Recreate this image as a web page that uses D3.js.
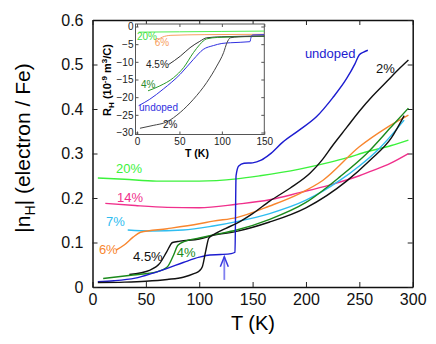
<!DOCTYPE html>
<html>
<head>
<meta charset="utf-8">
<script src="https://cdn.jsdelivr.net/npm/d3@7"></script>
<style>
  body { margin: 0; background: #fff; }
  svg { display: block; font-family: "Liberation Sans", Arial, sans-serif; }
</style>
</head>
<body>
<svg id="chart" width="436" height="344"></svg>
<script>
// main panel: |nH| vs T, [T (K), |nH|]
var undoped = [[5,0.012],[20,0.014],[40,0.02],[55,0.03],[70,0.042],[85,0.055],[100,0.067],[110,0.072],[120,0.073],[130,0.075],[133.5,0.078],[134.5,0.25],[137,0.272],[142,0.278],[150,0.279],[158,0.285],[166,0.298],[178,0.325],[194,0.353],[210,0.383],[225,0.425],[238,0.468],[246,0.502],[250,0.522],[254,0.528],[258,0.532]];
var dope2 = [[5,0.01],[30,0.011],[50,0.013],[70,0.017],[85,0.022],[95,0.03],[100,0.036],[103,0.046],[106,0.08],[109,0.11],[115,0.12],[125,0.132],[135,0.143],[150,0.165],[166,0.193],[185,0.222],[204,0.256],[215,0.285],[225,0.318],[238,0.358],[250,0.395],[262,0.428],[275,0.46],[288,0.492],[296,0.51]];
var dope4 = [[10,0.019],[38,0.027],[60,0.034],[70,0.045],[76,0.072],[80,0.094],[87,0.103],[100,0.11],[113,0.117],[135,0.128],[166,0.152],[200,0.19],[232,0.248],[257,0.3],[280,0.36],[296,0.402]];
var dope45 = [[34.5,0.028],[54,0.038],[63,0.053],[69.5,0.079],[75,0.1],[82,0.103],[100,0.108],[113,0.116],[135,0.125],[166,0.146],[200,0.178],[238,0.238],[260,0.285],[280,0.335],[292,0.385]];
var dope6 = [[22,0.083],[30,0.095],[38,0.112],[45,0.123],[70,0.131],[100,0.142],[113,0.148],[135,0.156],[166,0.182],[194,0.21],[216,0.24],[250,0.315],[275,0.357],[296,0.386]];
var dope7 = [[33,0.128],[54,0.126],[85,0.128],[113,0.137],[135,0.147],[166,0.165],[200,0.195],[232,0.24],[250,0.272],[269,0.312],[292,0.375]];
var dope14 = [[12,0.188],[40,0.183],[70,0.179],[100,0.178],[135,0.186],[166,0.196],[194,0.212],[222,0.229],[250,0.25],[263,0.262],[279,0.278],[296,0.3]];
var dope20 = [[5,0.245],[30,0.242],[60,0.238],[100,0.238],[135,0.243],[157,0.25],[194,0.265],[222,0.28],[238,0.29],[257,0.304],[280,0.318],[296,0.33]];
var arrowT = 123.5, arrowFrom = 0.016, arrowTo = 0.068;

// inset: RH (1e-9 m3/C) vs T
var inUndoped = [[2,-22.4],[15,-20.6],[31,-17.7],[51,-13.5],[66.5,-9.3],[78,-6.5],[90,-5.4],[100,-4.8],[110,-4.6],[133,-4.3],[134.5,-3],[136,-2.4],[150,-2.3]];
var in2 = [[3.5,-28.8],[19,-28],[35,-27],[51,-24.3],[66.5,-20.6],[82,-15.9],[94,-11.2],[102,-7.4],[106,-4.6],[110,-3.2],[120,-2.9],[150,-2.7]];
var in4 = [[13,-18.2],[27,-16.8],[43,-14.5],[55,-11.6],[66.5,-7.4],[74,-5.1],[82,-3.5],[95,-3.1],[150,-2.8]];
var in45 = [[37,-10.8],[51,-8.4],[62.5,-6],[74,-4.2],[82,-3.2],[100,-2.9],[150,-2.7]];
var in6 = [[22,-4.3],[30,-3],[40,-2.5],[80,-2.3],[150,-2.2]];
var in20 = [[2,-1.6],[50,-1.5],[100,-1.4],[150,-1.3]];

var xTicks = [0,50,100,150,200,250,300];
var yTicks = [0,0.1,0.2,0.3,0.4,0.5,0.6];
var inXTicks = [0,50,100,150];
var inYTicks = [0,-5,-10,-15,-20,-25,-30];

var svg = d3.select("#chart");

var x = d3.scaleLinear().domain([0,300]).range([92.5,412.7]);
var y = d3.scaleLinear().domain([0,0.6]).range([287,20]);

function styleAxis(g, size){
  g.selectAll("text").attr("font-size", size).attr("fill", "#111");
  g.selectAll("line").attr("stroke", "#222");
  g.select(".domain").attr("stroke", "#111").attr("stroke-width", 1.5);
}

svg.append("g").attr("transform", "translate(0,287)")
  .call(d3.axisBottom(x).tickValues(xTicks).tickSizeInner(-5).tickSizeOuter(0).tickPadding(7))
  .call(styleAxis, 16);
svg.append("g").attr("transform", "translate(92.5,0)")
  .call(d3.axisLeft(y).tickValues(yTicks).tickFormat(d3.format(".1~f")).tickSizeInner(-5).tickSizeOuter(0).tickPadding(9))
  .call(styleAxis, 16);
svg.append("g").attr("transform", "translate(0,20)")
  .call(d3.axisTop(x).tickValues(xTicks).tickFormat("").tickSizeInner(-5).tickSizeOuter(0))
  .call(styleAxis, 16);
svg.append("g").attr("transform", "translate(412.7,0)")
  .call(d3.axisRight(y).tickValues(yTicks).tickFormat("").tickSizeInner(-5).tickSizeOuter(0))
  .call(styleAxis, 16);

var line = d3.line().x(d => x(d[0])).y(d => y(d[1])).curve(d3.curveMonotoneX);

var mainSeries = [
  {d: dope20, c: "#3cf23c"}, {d: dope14, c: "#f0308c"}, {d: dope7, c: "#2fbdf0"},
  {d: dope6, c: "#f8862e"}, {d: dope45, c: "#111"}, {d: dope4, c: "#1b8a1b"},
  {d: undoped, c: "#1c1cd0"}, {d: dope2, c: "#111"}
];
svg.selectAll(".mline").data(mainSeries).join("path")
  .attr("class", "mline")
  .attr("d", s => line(s.d))
  .attr("fill", "none")
  .attr("stroke", s => s.c)
  .attr("stroke-width", 1.4);

// arrow at the undoped transition
svg.append("path")
  .attr("d", `M${x(arrowT)},${y(arrowFrom)}V${y(arrowTo)}`)
  .attr("stroke", "#8080f0").attr("stroke-width", 1.8);
svg.append("path")
  .attr("d", `M${x(arrowT)-4},${y(arrowTo)+10}L${x(arrowT)},${y(arrowTo)}L${x(arrowT)+4},${y(arrowTo)+10}`)
  .attr("fill", "none").attr("stroke", "#3a3ae0").attr("stroke-width", 1.5);

var mainLabels = [
  ["20%", 22, 0.256, "#3cf23c"], ["14%", 23, 0.191, "#f0308c"], ["7%", 12.6, 0.137, "#2fbdf0"],
  ["6%", 6, 0.074, "#f8862e"], ["4.5%", 38, 0.058, "#111"], ["4%", 79, 0.067, "#1b8a1b"],
  ["undoped", 199, 0.515, "#1c1cd0"], ["2%", 265.6, 0.481, "#111"]
];
svg.selectAll(".mlab").data(mainLabels).join("text")
  .attr("class", "mlab")
  .attr("x", d => x(d[1])).attr("y", d => y(d[2]))
  .attr("font-size", 13).attr("fill", d => d[3])
  .text(d => d[0]);

svg.append("text")
  .attr("x", 253).attr("y", 330)
  .attr("text-anchor", "middle").attr("font-size", 20)
  .text("T (K)");

var yl = svg.append("text")
  .attr("transform", "translate(30,148) rotate(-90)")
  .attr("text-anchor", "middle").attr("font-size", 21);
yl.append("tspan").text("|n");
yl.append("tspan").attr("font-size", 14).attr("dy", 5).text("H");
yl.append("tspan").attr("dy", -5).text("| (electron / Fe)");

/*** inset ***/
var ix = d3.scaleLinear().domain([0,150]).range([137,264.3]);
var iy = d3.scaleLinear().domain([-30,0]).range([132.5,26.5]);

svg.append("rect")
  .attr("x", 135.5).attr("y", 24).attr("width", 128.8).attr("height", 110.5)
  .attr("fill", "#fff").attr("stroke", "#555").attr("stroke-width", 1);

function styleInset(g){
  g.selectAll("text").attr("font-size", 10).attr("fill", "#222");
  g.selectAll("line").attr("stroke", "#555");
  g.select(".domain").remove();
}
svg.append("g").attr("transform", "translate(0,134.5)")
  .call(d3.axisBottom(ix).tickValues(inXTicks).tickSizeInner(-3).tickSizeOuter(0).tickPadding(3))
  .call(styleInset);
svg.append("g").attr("transform", "translate(135.5,0)")
  .call(d3.axisLeft(iy).tickValues(inYTicks).tickSizeInner(-3).tickSizeOuter(0).tickPadding(2))
  .call(styleInset);
svg.append("g").attr("transform", "translate(0,24)")
  .call(d3.axisTop(ix).tickValues(inXTicks).tickFormat("").tickSizeInner(-3).tickSizeOuter(0))
  .call(styleInset);
svg.append("g").attr("transform", "translate(264.3,0)")
  .call(d3.axisRight(iy).tickValues(inYTicks).tickFormat("").tickSizeInner(-3).tickSizeOuter(0))
  .call(styleInset);

var iline = d3.line().x(d => ix(d[0])).y(d => iy(d[1])).curve(d3.curveMonotoneX);
var insetSeries = [
  {d: in20, c: "#50f050"}, {d: in6, c: "#f8a060"}, {d: in45, c: "#333"},
  {d: in4, c: "#2a9a2a"}, {d: inUndoped, c: "#3030e0"}, {d: in2, c: "#444"}
];
svg.selectAll(".iline").data(insetSeries).join("path")
  .attr("class", "iline")
  .attr("d", s => iline(s.d))
  .attr("fill", "none")
  .attr("stroke", s => s.c)
  .attr("stroke-width", 1);

var insetLabels = [
  ["20%", 0, -3.8, "#40e040"], ["6%", 21, -5.5, "#f8a060"], ["4.5%", 10.6, -11.7, "#222"],
  ["4%", 4.7, -17.4, "#2a8a2a"], ["undoped", 2.4, -24, "#3030e0"], ["2%", 30.7, -28.6, "#222"]
];
svg.selectAll(".ilab").data(insetLabels).join("text")
  .attr("class", "ilab")
  .attr("x", d => ix(d[1])).attr("y", d => iy(d[2]))
  .attr("font-size", 10).attr("fill", d => d[3])
  .text(d => d[0]);

svg.append("text")
  .attr("x", 197).attr("y", 157)
  .attr("text-anchor", "middle").attr("font-size", 10.5).attr("font-weight", "bold")
  .text("T (K)");

var il = svg.append("text")
  .attr("transform", "translate(111,80) rotate(-90)")
  .attr("text-anchor", "middle").attr("font-size", 11).attr("font-weight", "bold");
il.append("tspan").text("R");
il.append("tspan").attr("font-size", 8).attr("dy", 3).text("H");
il.append("tspan").attr("dy", -3).text(" (10");
il.append("tspan").attr("font-size", 8).attr("dy", -4).text("-9");
il.append("tspan").attr("dy", 4).text(" m");
il.append("tspan").attr("font-size", 8).attr("dy", -4).text("3");
il.append("tspan").attr("dy", 4).text("/C)");
</script>
</body>
</html>
